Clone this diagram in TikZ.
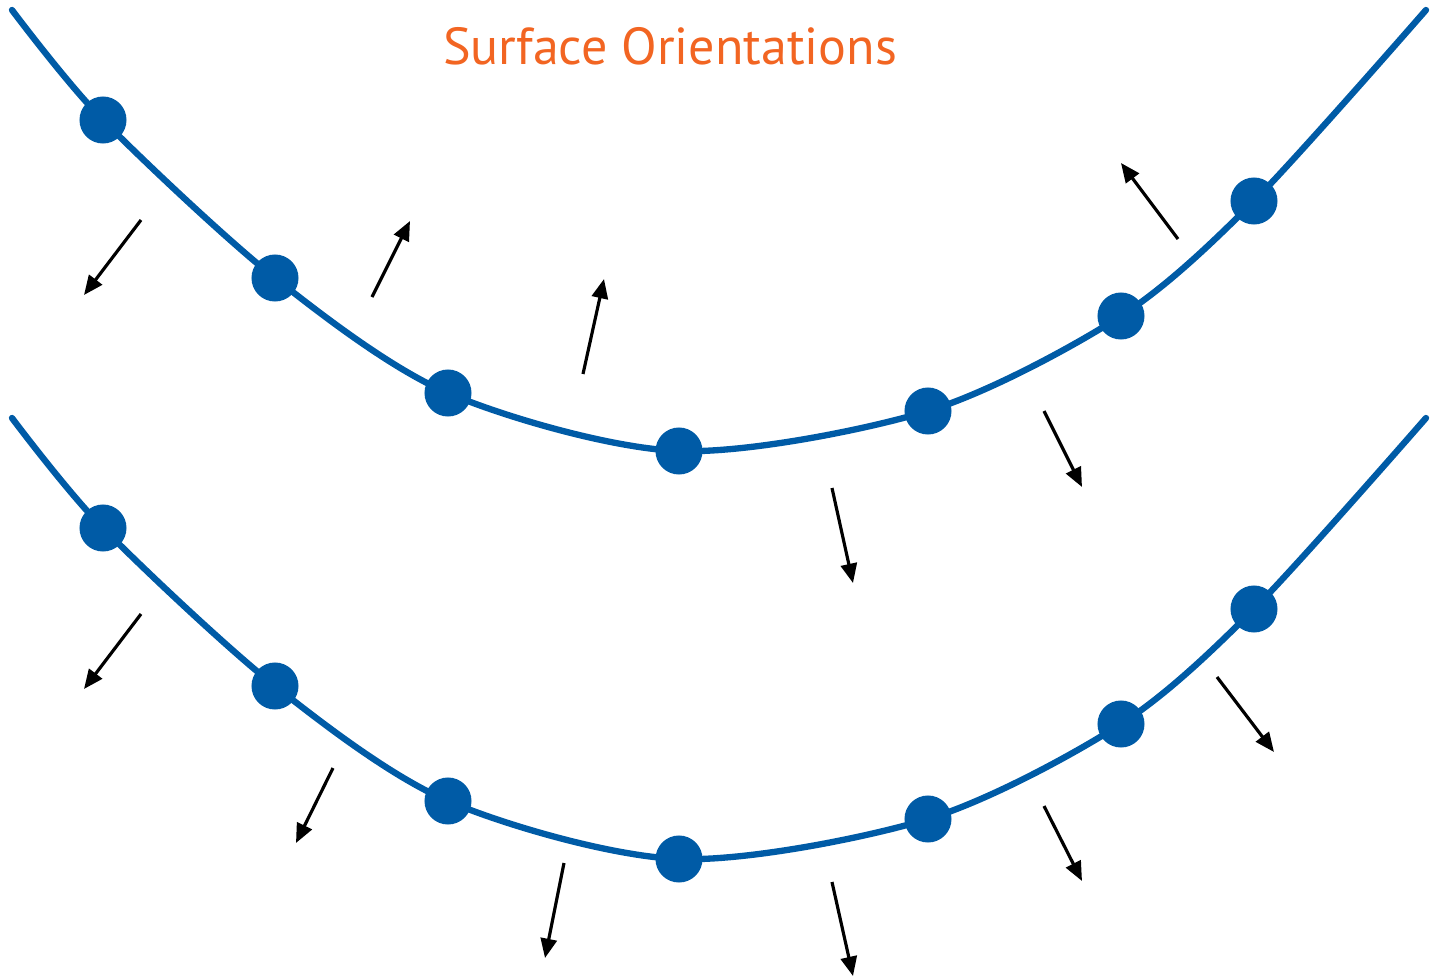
\documentclass[tikz,border=0pt]{standalone}
\usepackage{fontspec}
\setmainfont{PT Sans}
\usetikzlibrary{arrows.meta}
\definecolor{curveblue}{RGB}{0,91,166}
\definecolor{titleorange}{RGB}{242,101,34}
\begin{document}
\begin{tikzpicture}[x=0.01cm,y=-0.01cm,
  surf/.style={draw=curveblue,line width=1.8pt,line cap=round},
  dotnode/.style={circle,fill=curveblue,inner sep=0pt,minimum size=0.47cm},
  normal/.style={draw=black,line width=0.9pt,-{Triangle[length=5.5pt,width=4.6pt]}},
  titletext/.style={text=titleorange,font=\fontsize{14.8}{18}\selectfont}]
\useasboundingbox (0,0) rectangle (1432,978);
\node[titletext] (title) at (670,46) {Surface Orientations};
% top curve
\draw[surf] plot[smooth,tension=0.5] coordinates {(12,10) (103,120) (275,278) (448,393) (679,451) (928,411) (1121,316) (1254,201) (1426,10)};
\foreach \n/\x/\y in {t1/103/120,t2/275/278,t3/448/393,t4/679/451,t5/928/411,t6/1121/316,t7/1254/201}
  \node[dotnode] (\n) at (\x,\y) {};
% bottom curve
\draw[surf] plot[smooth,tension=0.5] coordinates {(12,418) (103,528) (275,686) (448,801) (679,859) (928,819) (1121,724) (1254,609) (1426,418)};
\foreach \n/\x/\y in {b1/103/528,b2/275/686,b3/448/801,b4/679/859,b5/928/819,b6/1121/724,b7/1254/609}
  \node[dotnode] (\n) at (\x,\y) {};
% top normals
\foreach \n/\xa/\ya/\xb/\yb in {tn1/141/220/84/295, tn2/372/297/410/221, tn3/583/374/604/279, tn4/1178/239/1121/163, tn5/1044/411/1082/487, tn6/832/488/853/583}{
  \coordinate (\n s) at (\xa,\ya);
  \coordinate (\n e) at (\xb,\yb);
  \draw[normal] (\n s) -- (\n e);
}
% bottom normals
\foreach \n/\xa/\ya/\xb/\yb in {bn1/141/614/84/689, bn2/333/768/296/843, bn3/564/863/545/958, bn4/832/882/853/976, bn5/1044/806/1082/881, bn6/1217/677/1274/752}{
  \coordinate (\n s) at (\xa,\ya);
  \coordinate (\n e) at (\xb,\yb);
  \draw[normal] (\n s) -- (\n e);
}
\end{tikzpicture}
\end{document}
